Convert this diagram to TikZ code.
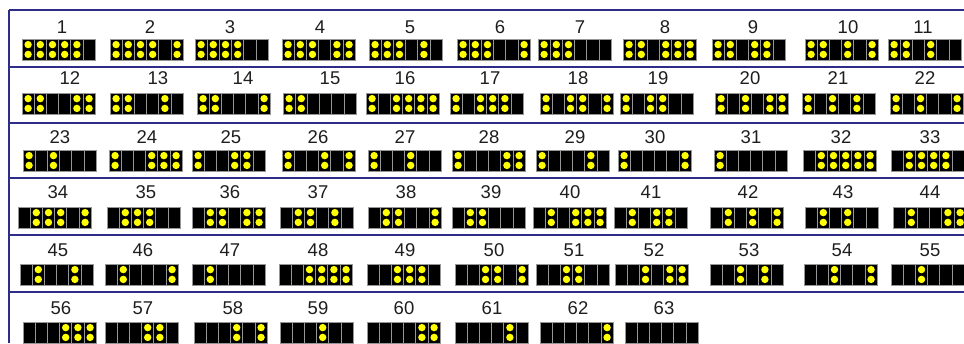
\documentclass[tikz,border=0pt]{standalone}
\usepackage{fontspec}
\setmainfont{Liberation Sans}
\definecolor{navyline}{RGB}{45,45,135}
\definecolor{dotyellow}{RGB}{255,255,0}
\definecolor{bargrey}{RGB}{150,150,150}
\definecolor{labtext}{RGB}{30,30,30}
\tikzset{
  lbl/.style={font=\fontsize{18.5}{20}\selectfont, text=labtext, inner sep=0pt},
  barbox/.style={fill=black, draw=bargrey, line width=0.9pt},
  dotfill/.style={fill=dotyellow},
  sepline/.style={draw=navyline, line width=1.5pt}
}
\newcommand\brcell[5]{%
  \node[lbl] (lab#1) at (#4,#5) {#1};
  \foreach \k in {0,...,5}{%
    \pgfmathtruncatemacro\bitv{mod(floor(#1/(2^(5-\k))),2)}%
    \pgfmathsetmacro\bx{#2+\k*12.2}%
    \draw[barbox] (\bx,#3) rectangle ++(12.2,21);
    \ifnum\bitv=0
      \fill[dotfill] (\bx+6.1,#3+5.6) circle (3.7);
      \fill[dotfill] (\bx+6.1,#3+15.4) circle (3.7);
    \fi
  }%
}
\begin{document}
\begin{tikzpicture}[x=1pt,y=-1pt]
\useasboundingbox (0,0) rectangle (964,343);
\fill[white] (0,0) rectangle (964,343);
% frame lines
\coordinate (tl) at (9,10);
\coordinate (bl) at (9,343);
\draw[sepline] (tl) -- (bl);
\foreach \yy/\nm in {10/a,67/b,123/c,178/d,235/e,292/f}{
  \coordinate (s\nm) at (9,\yy);
  \coordinate (e\nm) at (964,\yy);
  \draw[sepline] (s\nm) -- (e\nm);
}
% row 1
\foreach \n/\x/\lx in {1/22/62,2/110/150,3/195/230,4/282/320,5/369/410,6/457/500,7/538/580,8/623/665,9/712/753,10/805/848,11/888/923}
  {\brcell{\n}{\x}{39}{\lx}{27}}
% row 2
\foreach \n/\x/\lx in {12/22/70,13/110/158,14/197/243,15/283/330,16/366/405,17/450/490,18/540/578,19/620/658,20/715/750,21/802/838,22/890/925}
  {\brcell{\n}{\x}{93}{\lx}{78}}
% row 3
\foreach \n/\x/\lx in {23/23/60,24/109/147,25/192/231,26/282/318,27/368/405,28/452/489,29/536/575,30/618/655,31/714/751,32/803/841,33/891/930}
  {\brcell{\n}{\x}{150}{\lx}{137}}
% row 4
\foreach \n/\x/\lx in {34/18/58,35/107/146,36/192/230,37/280/318,38/368/406,39/452/491,40/533/570,41/614/651,42/710/748,43/805/843,44/893/930}
  {\brcell{\n}{\x}{207}{\lx}{192}}
% row 5
\foreach \n/\x/\lx in {45/20/58,46/105/143,47/192/230,48/279/318,49/367/405,50/455/494,51/536/574,52/615/654,53/710/749,54/804/842,55/891/930}
  {\brcell{\n}{\x}{264}{\lx}{250}}
% row 6
\foreach \n/\x/\lx in {56/23/61,57/105/143,58/194/233,59/280/318,60/367/404,61/455/492,62/540/578,63/625/664}
  {\brcell{\n}{\x}{322}{\lx}{308}}
\end{tikzpicture}
\end{document}
